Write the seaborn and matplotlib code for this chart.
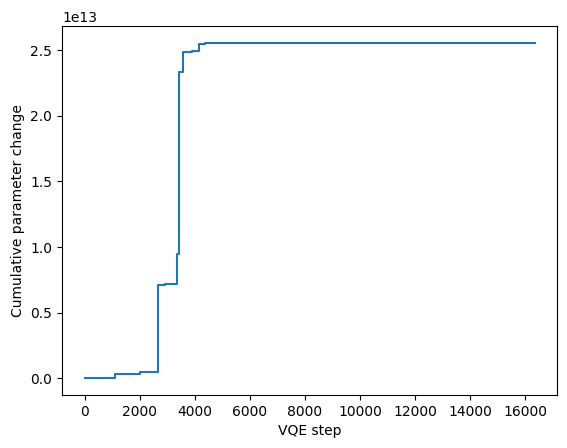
import numpy as np
import pandas as pd
import seaborn as sns
import matplotlib
matplotlib.use("Agg")
import matplotlib.pyplot as plt

# step positions where the cumulative change jumps, and the value after each jump
steps = [0, 1120, 2020, 2660, 2935, 3360, 3430, 3585, 3890, 4150, 4370, 6000, 16340]
values = [0.0, 0.035e13, 0.048e13, 0.714e13, 0.722e13, 0.945e13, 2.335e13,
          2.487e13, 2.494e13, 2.546e13, 2.554e13, 2.557e13, 2.557e13]

df = pd.DataFrame({"step": steps, "change": values})

fig = plt.figure(figsize=(5.67, 4.48), dpi=100)
ax = fig.add_axes([62 / 567, 1 - 395 / 448, (557 - 62) / 567, (395 - 26) / 448])
sns.lineplot(data=df, x="step", y="change", drawstyle="steps-post", color="#1f77b4", ax=ax)
ax.set_xlabel("VQE step")
ax.set_ylabel("Cumulative parameter change")
ax.set_xticks(range(0, 16001, 2000))
fig.savefig("out.png", dpi=100)
